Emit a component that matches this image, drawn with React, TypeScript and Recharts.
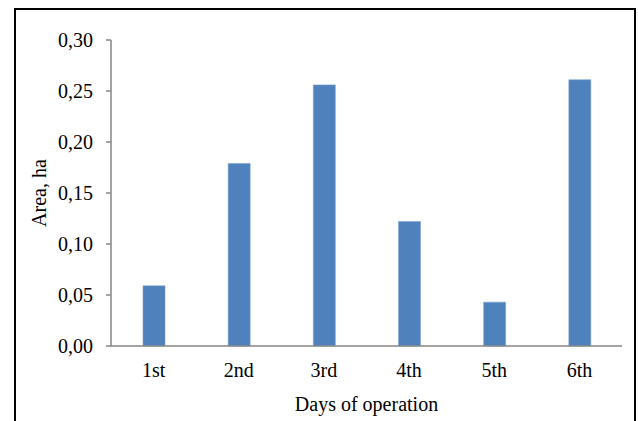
import { Bar, BarChart, Label, XAxis, YAxis } from "recharts";

const days = ["1st", "2nd", "3rd", "4th", "5th", "6th"];
const area = [0.059, 0.179, 0.256, 0.122, 0.043, 0.261];
const yTicks = [0, 0.05, 0.1, 0.15, 0.2, 0.25, 0.3];

const data = days.map((day, i) => ({ day, area: area[i] }));

const font = "'Liberation Serif', 'Times New Roman', serif";
const axisColor = "#868686";

const fmt = (v: number) => v.toFixed(2).replace(".", ",");

export default function App() {
  return (
    <div style={{ position: "relative", width: 638, height: 421, overflow: "hidden", background: "#fff" }}>
      <style>{"html,body{margin:0;padding:0;overflow:hidden}"}</style>
      <div
        style={{
          position: "absolute",
          left: 14,
          top: 8,
          width: 622,
          height: 430,
          border: "2px solid #000",
          boxSizing: "border-box",
        }}
      />
      <div style={{ position: "absolute", left: 0, top: 0 }}>
        <BarChart
          width={638}
          height={421}
          data={data}
          margin={{ top: 40, right: 16, bottom: 45, left: 25 }}
          style={{ fontFamily: font }}
        >
          <XAxis
            dataKey="day"
            stroke={axisColor}
            strokeWidth={1.5}
            tickLine={false}
            tickSize={0}
            tickMargin={17}
            height={30}
            tick={{ fill: "#000", fontSize: 20, fontFamily: font }}
          >
            <Label
              value="Days of operation"
              position="bottom"
              offset={21}
              style={{ fill: "#000", fontSize: 20, fontFamily: font }}
            />
          </XAxis>
          <YAxis
            domain={[0, 0.3]}
            ticks={yTicks}
            tickFormatter={fmt}
            stroke={axisColor}
            strokeWidth={1.5}
            tickSize={5}
            tickMargin={13}
            width={86}
            tick={{ fill: "#000", fontSize: 20, fontFamily: font }}
          >
            <Label
              content={({ viewBox }: any) => {
                const cy = viewBox.y + viewBox.height / 2;
                return (
                  <text
                    x={39}
                    y={cy}
                    transform={`rotate(-90, 39, ${cy})`}
                    textAnchor="middle"
                    dominantBaseline="central"
                    style={{ fill: "#000", fontSize: 20, fontFamily: font }}
                  >
                    Area, ha
                  </text>
                );
              }}
            />
          </YAxis>
          <Bar dataKey="area" fill="#4F81BD" stroke="#7EA3D0" strokeWidth={0.6} barSize={22} isAnimationActive={false} />
        </BarChart>
      </div>
    </div>
  );
}
